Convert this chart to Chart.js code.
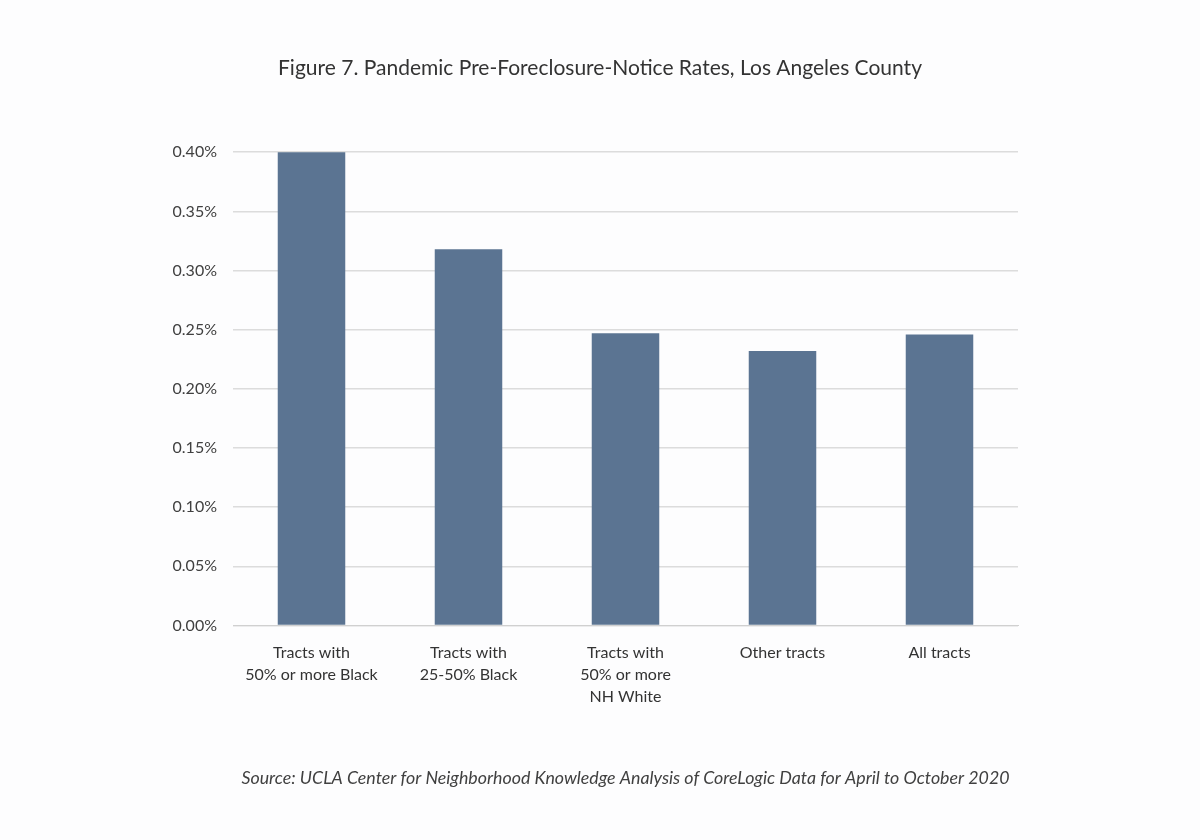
<!DOCTYPE html>
<html>
<head>
<meta charset="utf-8">
<script src="https://cdn.jsdelivr.net/npm/chart.js@4"></script>
<style>
  html, body { margin: 0; padding: 0; background: #fdfdfe; }
  #chart { display: block; }
</style>
</head>
<body>
<canvas id="chart" width="1200" height="840"></canvas>
<script>
const categories = [
  ['Tracts with', '50% or more Black'],
  ['Tracts with', '25-50% Black'],
  ['Tracts with', '50% or more', 'NH White'],
  'Other tracts',
  'All tracts',
];
const rates = [0.401, 0.318, 0.247, 0.232, 0.246];
const yTicks = [0, 0.05, 0.10, 0.15, 0.20, 0.25, 0.30, 0.35, 0.40];

const FONT = 'Lato, "Source Sans Pro", "Noto Sans", sans-serif';

const ctx = document.getElementById('chart').getContext('2d');
new Chart(ctx, {
  type: 'bar',
  data: {
    labels: categories,
    datasets: [{
      data: rates,
      backgroundColor: '#5b7492',
      barPercentage: 0.43,
      categoryPercentage: 1,
    }],
  },
  options: {
    responsive: false,
    animation: false,
    layout: { padding: 0 },
    plugins: {
      legend: { display: false },
      tooltip: { enabled: false },
      title: {
        display: true,
        text: 'Figure 7. Pandemic Pre-Foreclosure-Notice Rates, Los Angeles County',
        color: '#333333',
        font: { family: FONT, size: 21, weight: 'normal' },
        padding: { top: 56, bottom: 71 },
      },
      subtitle: {
        display: true,
        position: 'bottom',
        fullSize: false,
        text: 'Source: UCLA Center for Neighborhood Knowledge Analysis of CoreLogic Data for April to October 2020',
        color: '#404040',
        font: { family: FONT, size: 17.8, style: 'italic', weight: 'normal' },
        padding: { top: 52, bottom: 51 },
      },
    },
    scales: {
      x: {
        grid: { display: false },
        border: { color: '#d0d0d0', width: 1 },
        ticks: {
          color: '#333333',
          font: { family: FONT, size: 16, lineHeight: 1.38 },
          padding: 8,
          maxRotation: 0,
          autoSkip: false,
        },
      },
      y: {
        min: 0,
        max: 0.40,
        afterBuildTicks: (scale) => { scale.ticks = yTicks.map(v => ({ value: v })); },
        afterFit: (scale) => { scale.width = 233; },
        grid: { color: '#dcdcdc', lineWidth: 1.5, drawTicks: false },
        border: { display: false },
        ticks: {
          color: '#404040',
          font: { family: FONT, size: 16 },
          padding: 16,
          callback: (v) => v.toFixed(2) + '%',
        },
      },
      // empty right-hand axis, only reserves the white margin
      yRight: {
        position: 'right',
        display: true,
        grid: { display: false, drawOnChartArea: false },
        border: { display: false },
        ticks: { display: false },
        afterFit: (scale) => { scale.width = 182; },
      },
    },
  },
});
</script>
</body>
</html>
